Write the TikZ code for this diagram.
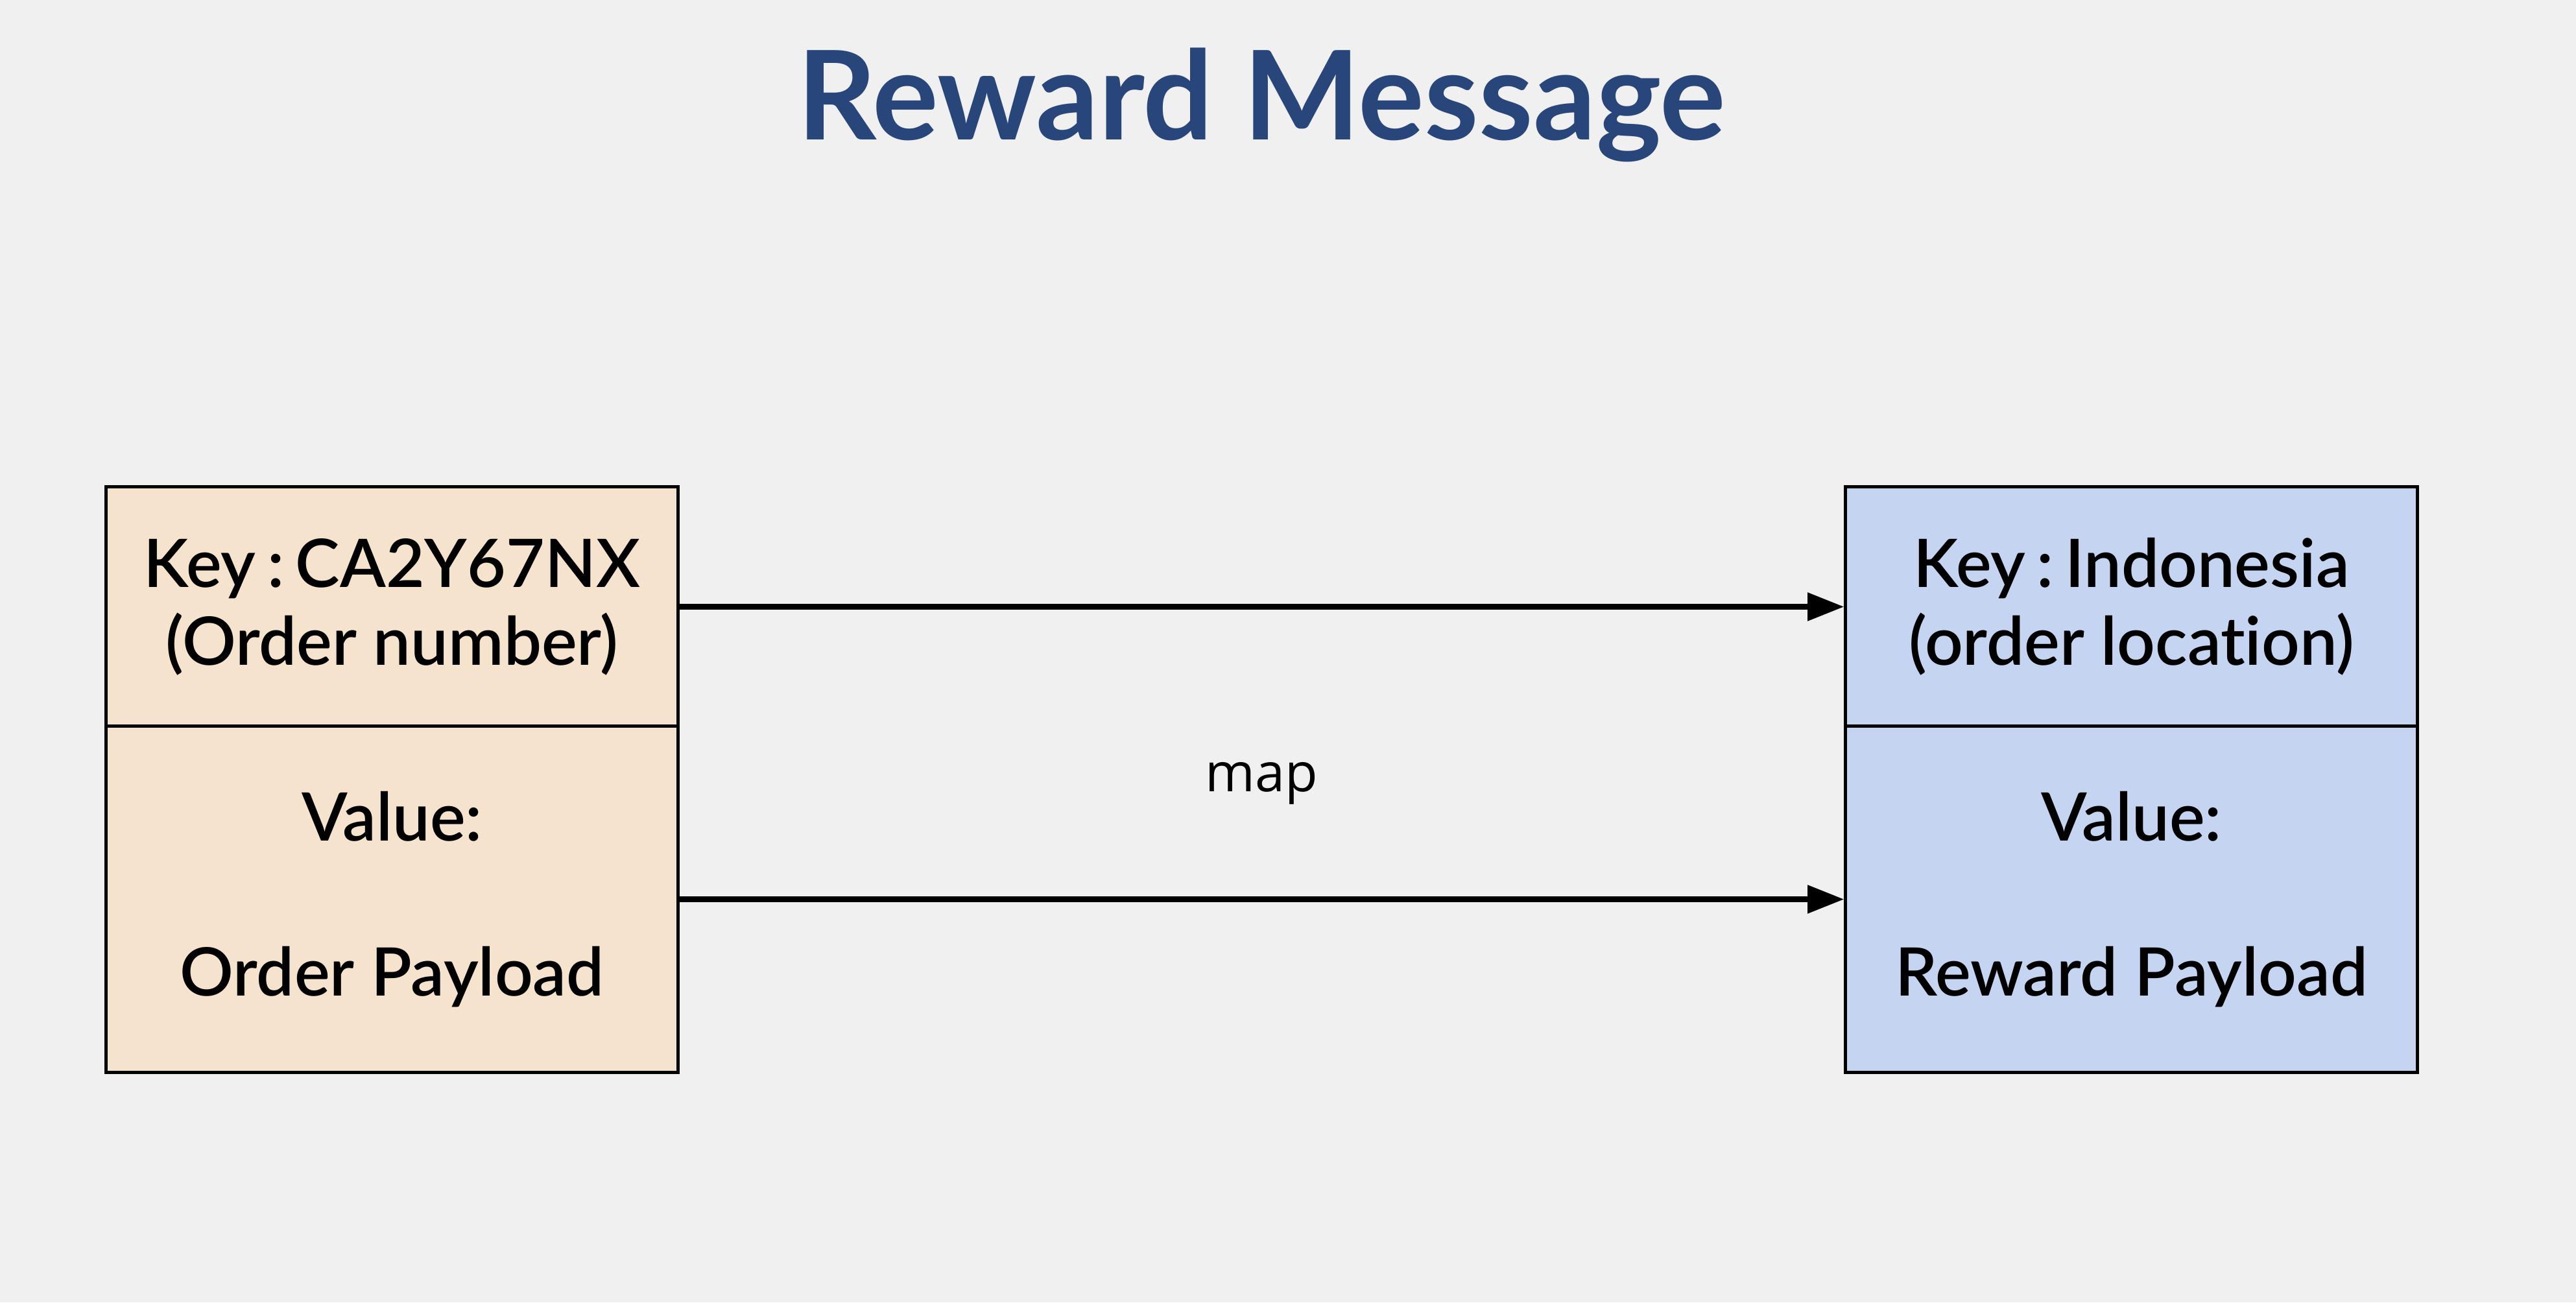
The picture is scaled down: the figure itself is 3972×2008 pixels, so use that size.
\documentclass[tikz,border=0pt]{standalone}
\usepackage{fontspec}
\setmainfont{Lato}[Ligatures={NoCommon}]
\newfontfamily\boxfont{Lato Semibold}[Ligatures={NoCommon}]
\newfontfamily\mapfont{Open Sans}
\usetikzlibrary{arrows.meta}
\definecolor{bgc}{HTML}{F0F0F0}
\definecolor{titlec}{HTML}{284679}
\definecolor{peach}{HTML}{F6E3CE}
\definecolor{lblue}{HTML}{C5D5F1}
\newcommand{\kcolon}{\hspace{0.17em}:\hspace{0.17em}}
\tikzset{
  cell/.style={draw=black, line width=1.4pt, minimum width=8.81cm, align=center, inner sep=0pt,
    font=\boxfont\fontsize{29.3}{34.1}\selectfont},
  keycell/.style={cell, minimum height=3.69cm},
  valcell/.style={cell, minimum height=5.33cm},
  conn/.style={line width=2.3pt, -{Triangle[length=16pt,width=12pt]}}
}
\begin{document}
\begin{tikzpicture}[x=0.01cm,y=-0.01cm]
\fill[bgc] (0,0) rectangle (3972,2008);
\useasboundingbox (0,0) rectangle (3972,2008);
\node[anchor=base, text=titlec, font=\fontsize{54.2}{60}\selectfont\bfseries] (title) at (1945,215) {Reward Message};
\node[keycell, fill=peach] (lk) at (604.5,935.5) {Key\kcolon CA2Y67NX\\(Order number)};
\node[valcell, fill=peach] (lv) at (604.5,1386.5) {Value:\\[34.1pt]Order Payload};
\node[keycell, fill=lblue] (rk) at (3286.5,935.5) {Key\kcolon Indonesia\\(order location)};
\node[valcell, fill=lblue] (rv) at (3286.5,1386.5) {Value:\\[34.1pt]Reward Payload};
\draw[conn] (lk.east) -- (rk.west);
\draw[conn] (lv.east) -- (rv.west);
\node[anchor=base, font=\mapfont\fontsize{23.5}{28}\selectfont] (map) at (1945,1220) {map};
\end{tikzpicture}
\end{document}
